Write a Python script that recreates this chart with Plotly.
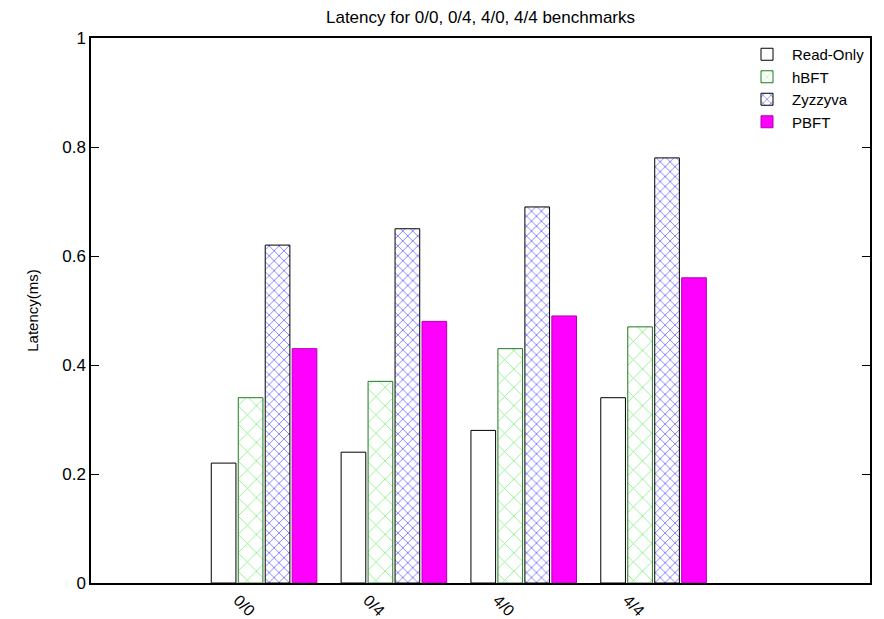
import plotly.graph_objects as go

categories = ["0/0", "0/4", "4/0", "4/4"]
series_names = ["Read-Only", "hBFT", "Zyzzyva", "PBFT"]
read_only = [0.22, 0.24, 0.28, 0.34]
hbft = [0.34, 0.37, 0.43, 0.47]
zyzzyva = [0.62, 0.65, 0.69, 0.78]
pbft = [0.43, 0.48, 0.49, 0.56]
y_ticks = [0, 0.2, 0.4, 0.6, 0.8, 1]

series = [read_only, hbft, zyzzyva, pbft]
styles = [
    dict(color="white", line=dict(color="black", width=1)),
    dict(color="white", line=dict(color="#1f7a1f", width=1),
         pattern=dict(shape="x", fgcolor="#00dd00", bgcolor="white", size=13, solidity=0.12)),
    dict(color="white", line=dict(color="black", width=1),
         pattern=dict(shape="x", fgcolor="#0000ff", bgcolor="white", size=7, solidity=0.25)),
    dict(color="#ff00ff", line=dict(color="#b000b0", width=1)),
]

n = len(series)
step = 0.2077
width = 0.19
fig = go.Figure()
idx = list(range(len(categories)))
for k, (name, vals, st) in enumerate(zip(series_names, series, styles)):
    off = (k - (n - 1) / 2) * step
    fig.add_trace(go.Bar(
        x=[i + off for i in idx], y=vals, name=name, width=width,
        marker=st,
    ))

# the page body adds an 8px margin, so the figure is 8px smaller than the window
fig.update_layout(
    width=876, height=611,
    barmode="overlay",
    plot_bgcolor="white", paper_bgcolor="white",
    margin=dict(l=83, r=14, t=30, b=36, autoexpand=False),
    font=dict(family="Liberation Sans, Arial, sans-serif", size=16, color="black"),
    title=dict(text="Latency for 0/0, 0/4, 4/0, 4/4 benchmarks", x=0.5, xref="paper",
               xanchor="center", y=0.995, yanchor="top", font=dict(size=17)),
    showlegend=True,
    legend=dict(x=1, y=1, xanchor="right", yanchor="top", bgcolor="rgba(0,0,0,0)",
                font=dict(size=15), tracegroupgap=0, itemwidth=40),
)
fig.update_xaxes(
    range=[-1.333, 4.667], automargin=False,
    tickvals=[i - 0.2 for i in idx], ticktext=categories, tickangle=45,
    tickfont=dict(size=16),
    showgrid=False, zeroline=False, showline=True, linecolor="black", linewidth=1.5,
    mirror=True, ticks="", ticklen=0,
)
fig.update_yaxes(
    range=[0, 1], automargin=False, tickvals=y_ticks, ticktext=[f"{v:g}" for v in y_ticks],
    tickfont=dict(size=17),
    showgrid=False, zeroline=False, showline=True, linecolor="black", linewidth=1.5,
    mirror="ticks", ticks="inside", ticklen=8, tickcolor="black",
    title=dict(text="Latency(ms)", font=dict(size=15), standoff=20),
)
fig.write_html("out.html")
